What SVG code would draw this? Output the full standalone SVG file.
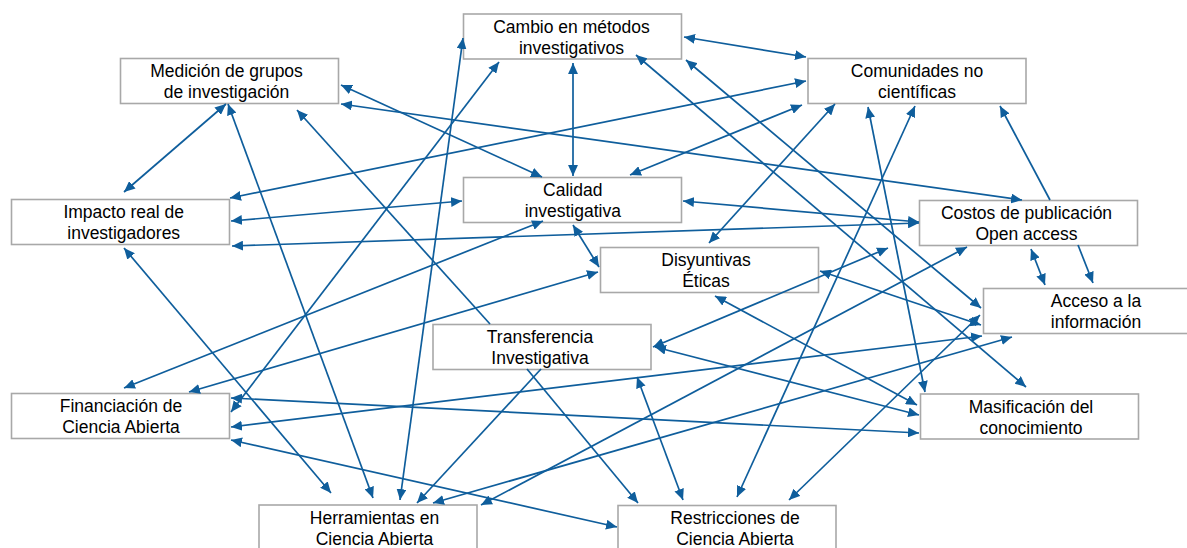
<svg xmlns="http://www.w3.org/2000/svg" width="1187" height="548" viewBox="0 0 1187 548">
<defs>
<style>
.box{fill:#ffffff;stroke:#a8a8a8;stroke-width:1.6}
.t{font-family:"Liberation Sans",Arial,Helvetica,sans-serif;font-size:17.5px;fill:#000;text-anchor:middle}
.c line{stroke:#0f5e9c;stroke-width:1.7;fill:none}
.d{marker-start:url(#as);marker-end:url(#ae)}
.s{marker-end:url(#ae)}
</style>
<marker id="ae" markerUnits="userSpaceOnUse" markerWidth="11" markerHeight="10" refX="10" refY="4.5" orient="auto" viewBox="0 0 10 9"><path d="M0,0 L10,4.5 L0,9 z" fill="#0f5e9c"/></marker>
<marker id="as" markerUnits="userSpaceOnUse" markerWidth="11" markerHeight="10" refX="10" refY="4.5" orient="auto-start-reverse" viewBox="0 0 10 9"><path d="M0,0 L10,4.5 L0,9 z" fill="#0f5e9c"/></marker>
</defs>
<rect width="1187" height="548" fill="#ffffff"/>

<g id="n-cambio"><rect class="box" x="463.5" y="14" width="218" height="45"/><text class="t" x="571.5" y="32.5">Cambio en métodos</text><text class="t" x="571.5" y="54">investigativos</text></g>
<g id="n-medicion"><rect class="box" x="120.5" y="58.5" width="218" height="45"/><text class="t" x="226.5" y="77">Medición de grupos</text><text class="t" x="226.5" y="98.3">de investigación</text></g>
<g id="n-comunidades"><rect class="box" x="808" y="58.5" width="218" height="45"/><text class="t" x="917" y="77">Comunidades no</text><text class="t" x="917" y="98.3">científicas</text></g>
<g id="n-impacto"><rect class="box" x="11.5" y="199.5" width="218" height="45"/><text class="t" x="123.7" y="218">Impacto real de</text><text class="t" x="123.7" y="239.3">investigadores</text></g>
<g id="n-calidad"><rect class="box" x="463.5" y="177.5" width="218" height="45"/><text class="t" x="572.8" y="195.8">Calidad</text><text class="t" x="572.8" y="217.2">investigativa</text></g>
<g id="n-costos"><rect class="box" x="919.5" y="200.5" width="218" height="45"/><text class="t" x="1026.5" y="219">Costos de publicación</text><text class="t" x="1026.5" y="240.3">Open access</text></g>
<g id="n-disyuntivas"><rect class="box" x="600.5" y="247.5" width="218" height="45"/><text class="t" x="706" y="266">Disyuntivas</text><text class="t" x="706" y="287.3">Éticas</text></g>
<g id="n-acceso"><rect class="box" x="983.5" y="288.5" width="218" height="45"/><text class="t" x="1096" y="307">Acceso a la</text><text class="t" x="1096" y="328.3">información</text></g>
<g id="n-transferencia"><rect class="box" x="433" y="324.5" width="218" height="45"/><text class="t" x="540" y="343">Transferencia</text><text class="t" x="540" y="364.3">Investigativa</text></g>
<g id="n-financiacion"><rect class="box" x="11.5" y="393.5" width="218" height="45"/><text class="t" x="121" y="412">Financiación de</text><text class="t" x="121" y="433.3">Ciencia Abierta</text></g>
<g id="n-masificacion"><rect class="box" x="920.5" y="394" width="218" height="45"/><text class="t" x="1031" y="412.5">Masificación del</text><text class="t" x="1031" y="433.8">conocimiento</text></g>
<g id="n-herramientas"><rect class="box" x="259" y="505" width="218" height="45"/><text class="t" x="374.5" y="523.5">Herramientas en</text><text class="t" x="374.5" y="544.8">Ciencia Abierta</text></g>
<g id="n-restricciones"><rect class="box" x="618" y="505.5" width="218" height="45"/><text class="t" x="735" y="524">Restricciones de</text><text class="t" x="735" y="545.3">Ciencia Abierta</text></g>

<g id="connectors" class="c">
<line class="d" x1="226" y1="104" x2="124" y2="192"/>
<line class="d" x1="228" y1="104" x2="373" y2="498"/>
<line class="s" x1="490" y1="324" x2="297" y2="110"/>
<line class="d" x1="341" y1="85" x2="542" y2="177"/>
<line class="d" x1="341" y1="104" x2="1022" y2="200"/>
<line class="d" x1="573" y1="63" x2="573" y2="176"/>
<line class="d" x1="230" y1="198" x2="806" y2="81"/>
<line class="d" x1="231" y1="221" x2="462" y2="201"/>
<line class="d" x1="232" y1="246" x2="919" y2="223"/>
<line class="d" x1="683" y1="201" x2="919" y2="222"/>
<line class="d" x1="124" y1="248" x2="331" y2="493"/>
<line class="d" x1="463" y1="38" x2="400" y2="500"/>
<line class="d" x1="499" y1="62" x2="231" y2="412"/>
<line class="d" x1="543" y1="221" x2="124" y2="388"/>
<line class="d" x1="573" y1="225" x2="599" y2="267"/>
<line class="d" x1="598" y1="272" x2="189" y2="392"/>
<line class="d" x1="684" y1="37" x2="806" y2="57"/>
<line class="d" x1="802" y1="105" x2="630" y2="175"/>
<line class="d" x1="835" y1="104" x2="709" y2="243"/>
<line class="d" x1="868" y1="107" x2="925" y2="392"/>
<line class="d" x1="915" y1="106" x2="737" y2="497"/>
<line class="s" x1="1050" y1="200" x2="1000" y2="106"/>
<line class="d" x1="636" y1="55" x2="1026" y2="387"/>
<line class="d" x1="686" y1="60" x2="981" y2="308"/>
<line class="d" x1="820" y1="271" x2="981" y2="325"/>
<line class="d" x1="653" y1="347" x2="888" y2="248"/>
<line class="d" x1="655" y1="347" x2="919" y2="415"/>
<line class="d" x1="715" y1="296" x2="917" y2="405"/>
<line class="d" x1="231" y1="398" x2="919" y2="433"/>
<line class="d" x1="231" y1="427" x2="982" y2="336"/>
<line class="d" x1="231" y1="440" x2="617" y2="527"/>
<line class="s" x1="541" y1="369" x2="417" y2="503"/>
<line class="s" x1="527" y1="369" x2="638" y2="503"/>
<line class="d" x1="637" y1="377" x2="683" y2="500"/>
<line class="d" x1="433" y1="503" x2="1012" y2="337"/>
<line class="d" x1="481" y1="505" x2="967" y2="247"/>
<line class="d" x1="789" y1="500" x2="980" y2="315"/>
<line class="d" x1="1031" y1="249" x2="1045" y2="285"/>
<line class="s" x1="1078" y1="245" x2="1093" y2="283"/>
</g>
</svg>
